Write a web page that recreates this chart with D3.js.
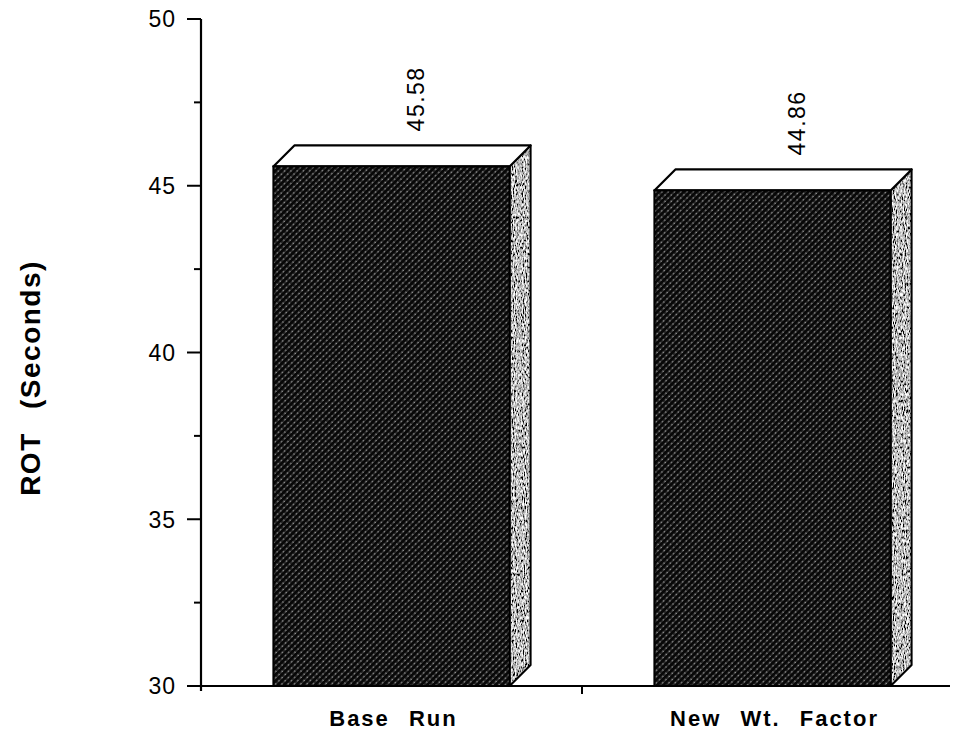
<!DOCTYPE html>
<html>
<head>
<meta charset="utf-8">
<script src="https://cdn.jsdelivr.net/npm/d3@7"></script>
<style>
  body { margin: 0; background: #fff; }
  text { font-family: "Liberation Sans", Arial, sans-serif; fill: #000; }
</style>
</head>
<body>
<div id="chart"></div>
<script>
// Data
const categories = ["Base Run", "New Wt. Factor"];
const values = [45.58, 44.86];
const valueLabels = ["45.58", "44.86"];
const yTicks = [30, 35, 40, 45, 50];
const yMinorTicks = [32.5, 37.5, 42.5, 47.5];

const width = 958,
  height = 734;

// 3d depth of the bars
const depth = 21;

const svg = d3.select("#chart")
  .append("svg")
  .attr("width", width)
  .attr("height", height);

const defs = svg.append("defs");

// Dark diagonal hatch for the front of the bars
const hatch = defs.append("pattern")
  .attr("id", "hatch")
  .attr("patternUnits", "userSpaceOnUse")
  .attr("width", 4.4)
  .attr("height", 4.5)
  .attr("patternTransform", "rotate(45)");
hatch.append("rect").attr("width", 4.4).attr("height", 4.5).attr("fill", "#080808");
hatch.append("line")
  .attr("x1", 1).attr("y1", 0).attr("x2", 1).attr("y2", 4.5)
  .attr("stroke", "#3c3c3c")
  .attr("stroke-width", 1.1);
hatch.append("line")
  .attr("x1", 1).attr("y1", 0).attr("x2", 1).attr("y2", 4.5)
  .attr("stroke", "#b4b4b4")
  .attr("stroke-width", 1.1)
  .attr("stroke-dasharray", "1.4,3.1");

// Grainy grey for the side of the bars
const grainy = defs.append("filter")
  .attr("id", "grainy")
  .attr("x", 0).attr("y", 0)
  .attr("width", "100%").attr("height", "100%");
grainy.append("feTurbulence")
  .attr("type", "fractalNoise")
  .attr("baseFrequency", "0.9 0.3")
  .attr("numOctaves", 2)
  .attr("seed", 4)
  .attr("result", "noise");
grainy.append("feColorMatrix")
  .attr("in", "noise")
  .attr("type", "matrix")
  .attr("values", "2.6 0 0 0 -0.8  2.6 0 0 0 -0.8  2.6 0 0 0 -0.8  0 0 0 0 1")
  .attr("result", "grey");
grainy.append("feComposite")
  .attr("in", "grey")
  .attr("in2", "SourceGraphic")
  .attr("operator", "in");

// Scales
const x = d3.scaleBand()
  .domain(categories)
  .range([201, 963])
  .paddingInner(0.38)
  .paddingOuter(0.19);

const y = d3.scaleLinear()
  .domain([30, 50])
  .range([686, 19]);

// Bars
const bars = svg.selectAll(".bar")
  .data(values)
  .enter()
  .append("g")
  .attr("class", "bar");

function sidePath(d, i) {
  const x1 = x(categories[i]) + x.bandwidth();
  const yt = y(d), yb = y(30);
  return "M" + x1 + "," + yt + "L" + (x1 + depth) + "," + (yt - depth) +
    "L" + (x1 + depth) + "," + (yb - depth) + "L" + x1 + "," + yb + "Z";
}

// side face: grain, then outline
bars.append("path")
  .attr("d", sidePath)
  .attr("fill", "#777")
  .attr("filter", "url(#grainy)");

bars.append("path")
  .attr("d", sidePath)
  .attr("fill", "none")
  .attr("stroke", "#000")
  .attr("stroke-width", 2)
  .attr("stroke-linejoin", "round");

// top face
bars.append("path")
  .attr("d", function (d, i) {
    const x0 = x(categories[i]), x1 = x0 + x.bandwidth();
    const yt = y(d);
    return "M" + x0 + "," + yt + "L" + (x0 + depth) + "," + (yt - depth) +
      "L" + (x1 + depth) + "," + (yt - depth) + "L" + x1 + "," + yt + "Z";
  })
  .attr("fill", "#fff")
  .attr("stroke", "#000")
  .attr("stroke-width", 2.2)
  .attr("stroke-linejoin", "round");

// front face
bars.append("rect")
  .attr("x", function (d, i) { return x(categories[i]); })
  .attr("y", function (d) { return y(d); })
  .attr("width", x.bandwidth())
  .attr("height", function (d) { return y(30) - y(d); })
  .attr("fill", "url(#hatch)")
  .attr("stroke", "#000")
  .attr("stroke-width", 2);

// Value labels, rotated
bars.append("text")
  .attr("transform", function (d, i) {
    const cx = x(categories[i]) + x.bandwidth() / 2 + 24;
    return "translate(" + cx + "," + (y(d) - 35) + ") rotate(-90)";
  })
  .attr("dy", "0.36em")
  .style("font-size", "23px")
  .style("letter-spacing", "1.5px")
  .text(function (d, i) { return valueLabels[i]; });

// Y axis
const yAxis = svg.append("g");
yAxis.append("line")
  .attr("x1", 201).attr("x2", 201)
  .attr("y1", y(50)).attr("y2", y(30) + 5)
  .attr("stroke", "#000").attr("stroke-width", 2.2);

yAxis.selectAll(".major")
  .data(yTicks)
  .enter()
  .append("line")
  .attr("x1", 187).attr("x2", 201)
  .attr("y1", function (d) { return y(d); })
  .attr("y2", function (d) { return y(d); })
  .attr("stroke", "#000").attr("stroke-width", 2);

yAxis.selectAll(".minor")
  .data(yMinorTicks)
  .enter()
  .append("line")
  .attr("x1", 194).attr("x2", 201)
  .attr("y1", function (d) { return y(d); })
  .attr("y2", function (d) { return y(d); })
  .attr("stroke", "#000").attr("stroke-width", 2);

yAxis.selectAll(".ylab")
  .data(yTicks)
  .enter()
  .append("text")
  .attr("x", 176)
  .attr("y", function (d) { return y(d); })
  .attr("dy", "0.36em")
  .attr("text-anchor", "end")
  .style("font-size", "23px")
  .style("letter-spacing", "1px")
  .text(function (d) { return d; });

// X axis
svg.append("line")
  .attr("x1", 196).attr("x2", 950)
  .attr("y1", y(30)).attr("y2", y(30))
  .attr("stroke", "#000").attr("stroke-width", 2.2);

svg.append("line")
  .attr("x1", x.step() + 201).attr("x2", x.step() + 201)
  .attr("y1", y(30)).attr("y2", y(30) + 8)
  .attr("stroke", "#000").attr("stroke-width", 2);

svg.selectAll(".xlab")
  .data(categories)
  .enter()
  .append("text")
  .attr("x", function (d) { return x(d) + x.bandwidth() / 2 + 2; })
  .attr("y", 726)
  .attr("text-anchor", "middle")
  .style("font-size", "22px")
  .style("font-weight", "bold")
  .style("letter-spacing", "2px")
  .style("word-spacing", "11px")
  .text(function (d) { return d; });

// Y axis title
svg.append("text")
  .attr("transform", "translate(40,378) rotate(-90)")
  .attr("text-anchor", "middle")
  .style("font-size", "28px")
  .style("font-weight", "bold")
  .style("letter-spacing", "1.5px")
  .style("word-spacing", "14px")
  .text("ROT (Seconds)");
</script>
</body>
</html>
